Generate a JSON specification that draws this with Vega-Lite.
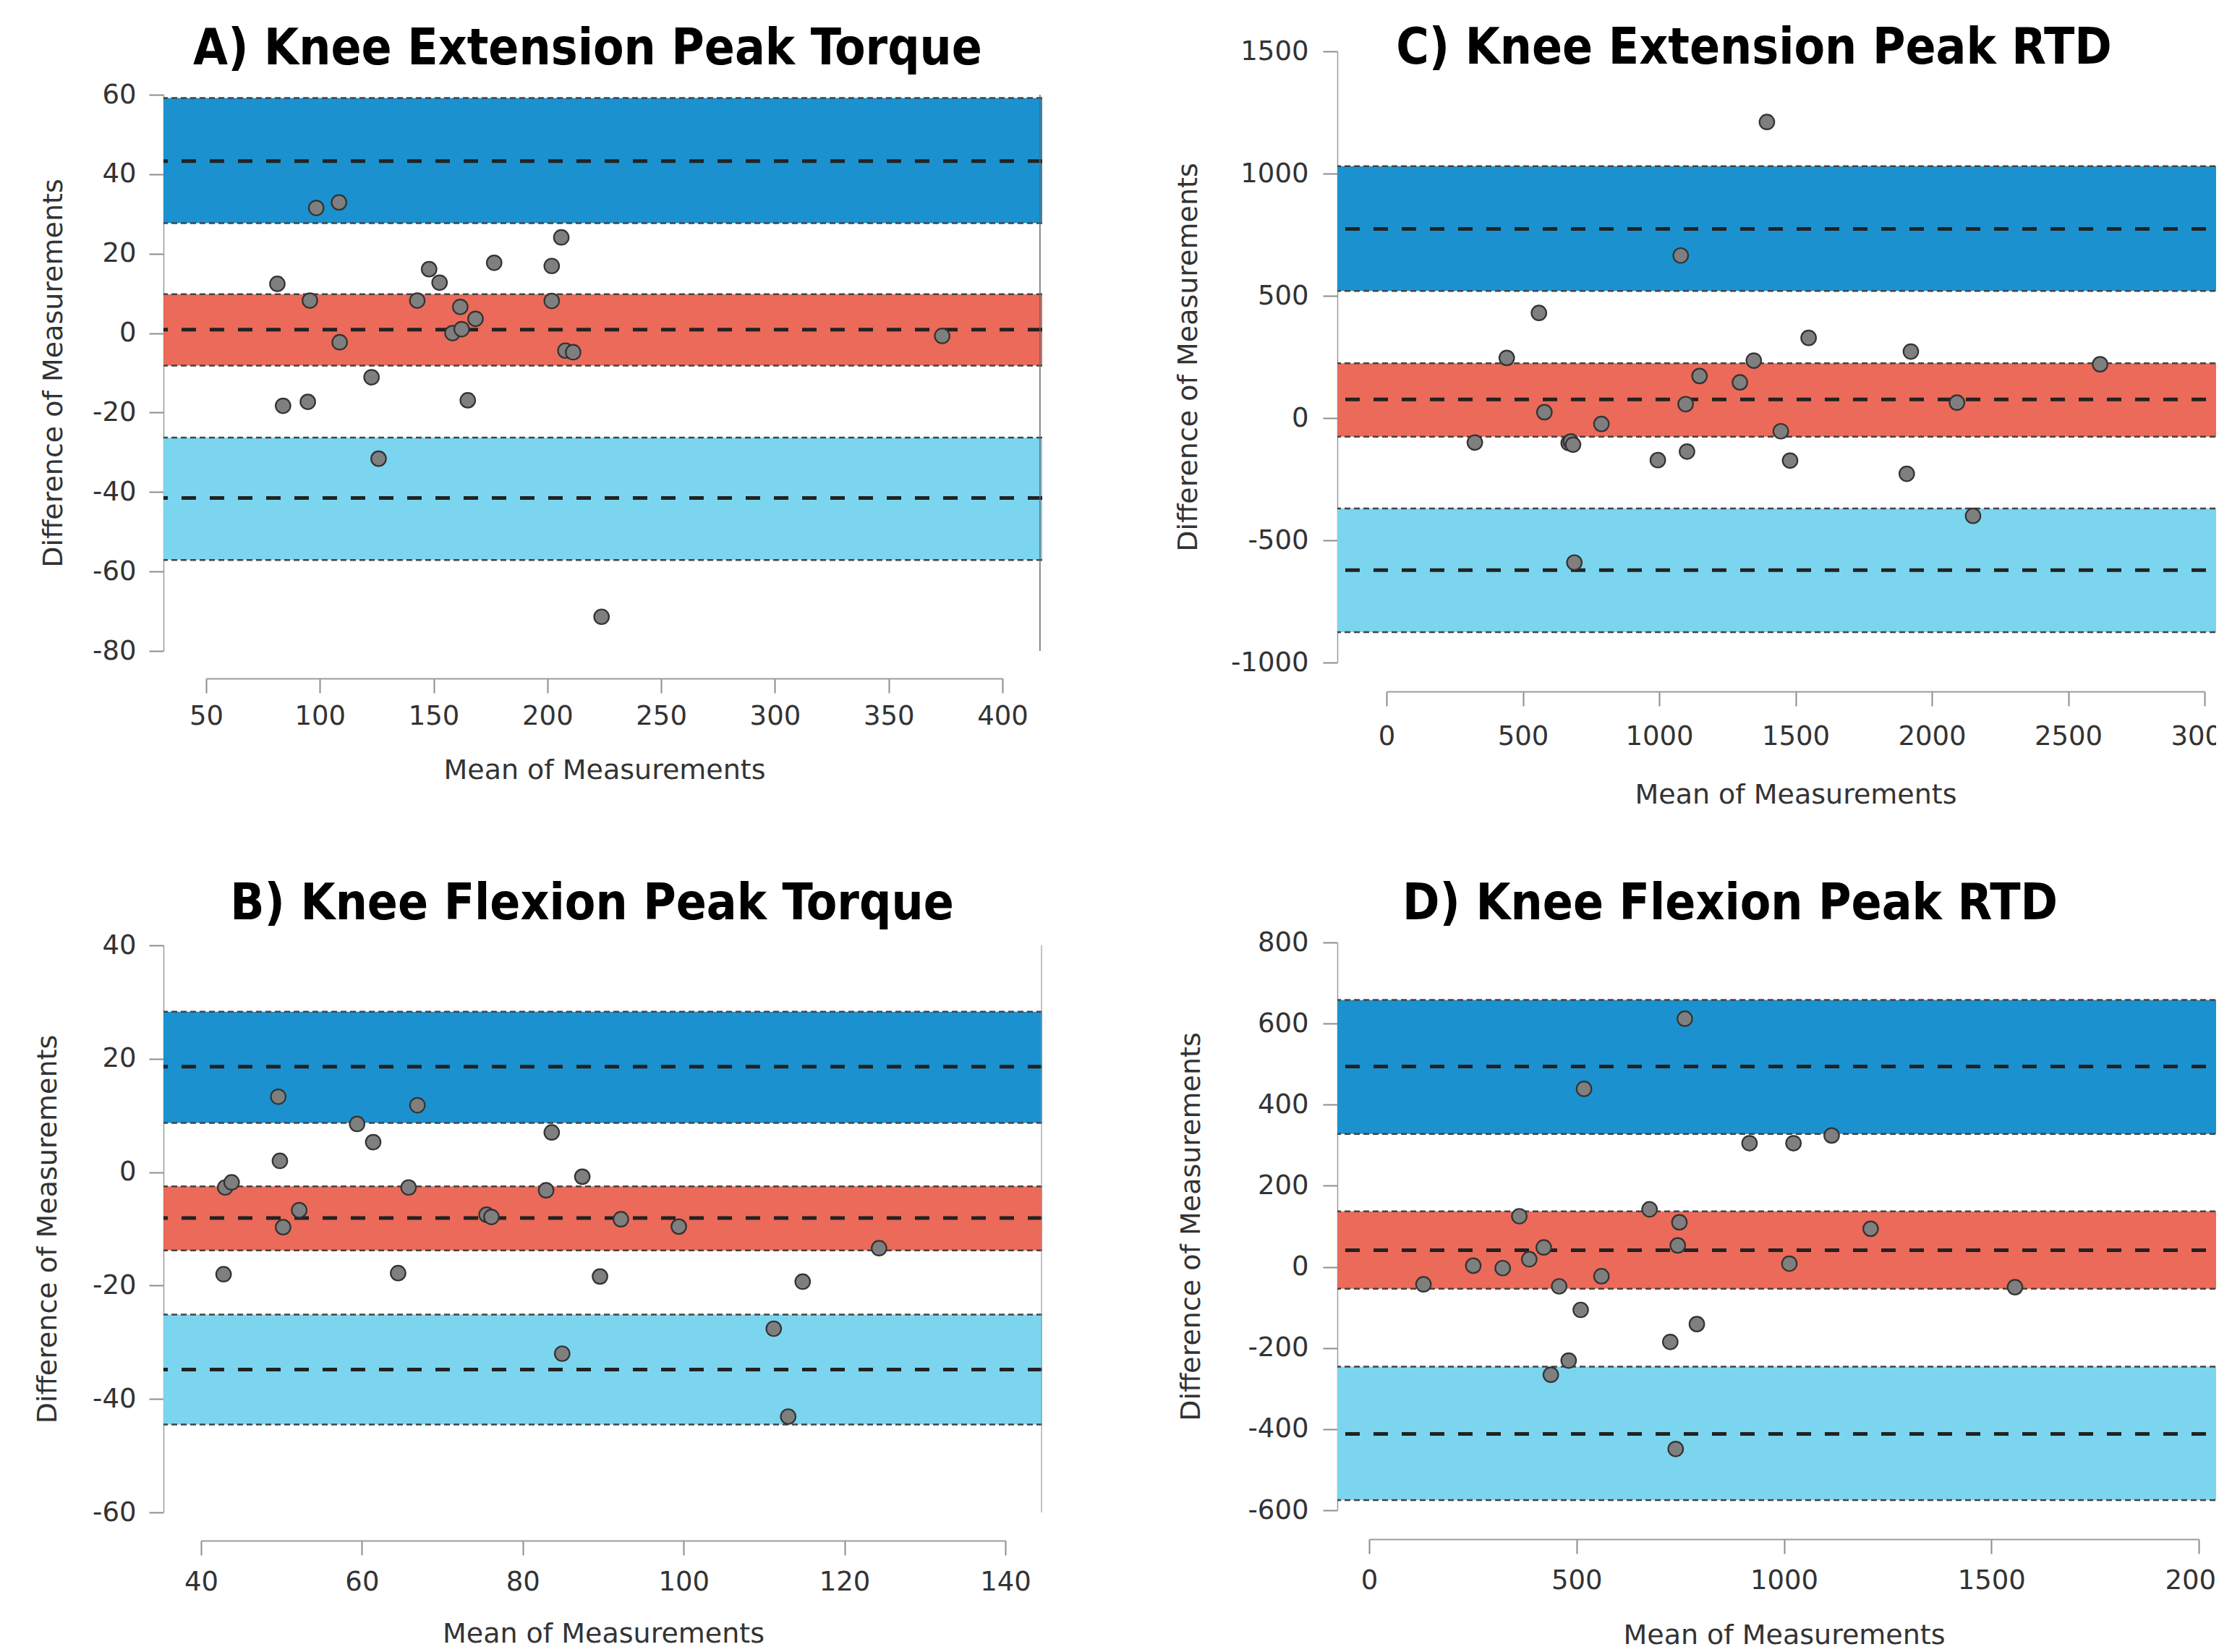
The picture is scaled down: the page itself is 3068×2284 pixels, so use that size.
{
  "$schema": "https://vega.github.io/schema/vega-lite/v6.json",
  "background": "white",
  "padding": {"left": 47, "top": 33, "right": -32, "bottom": 0},
  "autosize": {"type": "pad"},
  "config": {
    "view": {"stroke": null},
    "font": "DejaVu Sans",
    "axis": {
      "grid": false, "labelFlush": false, "labelOverlap": false,
      "domainColor": "#9c9c9c", "domainWidth": 2,
      "tickColor": "#8c8c8c", "tickWidth": 2, "tickSize": 20,
      "labelFont": "DejaVu Sans", "labelFontSize": 37, "labelColor": "#333333",
      "titleFont": "DejaVu Sans", "titleFontSize": 38, "titleFontWeight": "normal", "titleColor": "#333333"
    },
    "title": {"font": "DejaVu Sans Condensed, Liberation Sans Narrow, DejaVu Sans", "fontSize": 69, "fontWeight": "bold", "color": "#000000", "anchor": "middle", "frame": "group", "baseline": "alphabetic"}
  },
  "datasets": {
    "ptsA": [
      {"mean": 81.3, "diff": 12.4}, {"mean": 83.8, "diff": -18.3}, {"mean": 94.7, "diff": -17.3}, {"mean": 95.6, "diff": 8.2}, {"mean": 98.4, "diff": 31.5},
      {"mean": 108.4, "diff": 32.9}, {"mean": 108.7, "diff": -2.3}, {"mean": 122.7, "diff": -11.1}, {"mean": 125.8, "diff": -31.6}, {"mean": 142.8, "diff": 8.2},
      {"mean": 148.0, "diff": 16.1}, {"mean": 152.6, "diff": 12.7}, {"mean": 158.3, "diff": 0.0}, {"mean": 161.7, "diff": 6.6}, {"mean": 162.3, "diff": 1.0},
      {"mean": 165.0, "diff": -16.9}, {"mean": 168.4, "diff": 3.6}, {"mean": 176.6, "diff": 17.7}, {"mean": 201.9, "diff": 16.9}, {"mean": 201.9, "diff": 8.1},
      {"mean": 206.1, "diff": 24.1}, {"mean": 207.9, "diff": -4.4}, {"mean": 211.3, "diff": -4.8}, {"mean": 223.8, "diff": -71.4}, {"mean": 373.5, "diff": -0.7}
    ],
    "bandsA": [
      {"band": "upper", "lo": 27.7, "hi": 59.2, "mid": 43.3},
      {"band": "bias", "lo": -8.2, "hi": 9.8, "mid": 0.9},
      {"band": "lower", "lo": -57.1, "hi": -26.3, "mid": -41.5}
    ],
    "edgeA": [{"x": 416.5, "y1": -80, "y2": 60}],
    "ptsB": [
      {"mean": 42.8, "diff": -18.0}, {"mean": 43.0, "diff": -2.7}, {"mean": 43.8, "diff": -1.8}, {"mean": 49.6, "diff": 13.3}, {"mean": 49.8, "diff": 2.0},
      {"mean": 50.2, "diff": -9.7}, {"mean": 52.2, "diff": -6.7}, {"mean": 59.4, "diff": 8.5}, {"mean": 61.4, "diff": 5.3}, {"mean": 64.5, "diff": -17.8},
      {"mean": 65.8, "diff": -2.7}, {"mean": 66.9, "diff": 11.8}, {"mean": 75.5, "diff": -7.5}, {"mean": 76.1, "diff": -7.9}, {"mean": 82.9, "diff": -3.2},
      {"mean": 83.6, "diff": 7.0}, {"mean": 84.9, "diff": -32.0}, {"mean": 87.4, "diff": -0.8}, {"mean": 89.6, "diff": -18.4}, {"mean": 92.2, "diff": -8.3},
      {"mean": 99.4, "diff": -9.6}, {"mean": 111.2, "diff": -27.6}, {"mean": 113.0, "diff": -43.1}, {"mean": 114.8, "diff": -19.3}, {"mean": 124.3, "diff": -13.4}
    ],
    "bandsB": [
      {"band": "upper", "lo": 8.7, "hi": 28.3, "mid": 18.6},
      {"band": "bias", "lo": -13.8, "hi": -2.5, "mid": -8.1},
      {"band": "lower", "lo": -44.5, "hi": -25.1, "mid": -34.8}
    ],
    "edgeB": [{"x": 144.5, "y1": -60, "y2": 40}],
    "ptsC": [
      {"mean": 324, "diff": -100}, {"mean": 441, "diff": 246}, {"mean": 559, "diff": 430}, {"mean": 579, "diff": 24}, {"mean": 668, "diff": -102},
      {"mean": 676, "diff": -96}, {"mean": 684, "diff": -109}, {"mean": 689, "diff": -591}, {"mean": 788, "diff": -24}, {"mean": 995, "diff": -172},
      {"mean": 1079, "diff": 665}, {"mean": 1097, "diff": 57}, {"mean": 1102, "diff": -137}, {"mean": 1148, "diff": 172}, {"mean": 1296, "diff": 146},
      {"mean": 1347, "diff": 235}, {"mean": 1395, "diff": 1211}, {"mean": 1446, "diff": -54}, {"mean": 1480, "diff": -174}, {"mean": 1548, "diff": 328},
      {"mean": 1908, "diff": -228}, {"mean": 1923, "diff": 272}, {"mean": 2092, "diff": 63}, {"mean": 2151, "diff": -400}, {"mean": 2617, "diff": 220}
    ],
    "bandsC": [
      {"band": "upper", "lo": 520, "hi": 1030, "mid": 774},
      {"band": "bias", "lo": -76, "hi": 224, "mid": 76},
      {"band": "lower", "lo": -876, "hi": -370, "mid": -622}
    ],
    "ptsD": [
      {"mean": 131, "diff": -43}, {"mean": 251, "diff": 3}, {"mean": 322, "diff": -3}, {"mean": 362, "diff": 125}, {"mean": 386, "diff": 19},
      {"mean": 421, "diff": 48}, {"mean": 438, "diff": -266}, {"mean": 458, "diff": -48}, {"mean": 481, "diff": -231}, {"mean": 510, "diff": -106},
      {"mean": 518, "diff": 439}, {"mean": 560, "diff": -23}, {"mean": 676, "diff": 142}, {"mean": 726, "diff": -185}, {"mean": 739, "diff": -449},
      {"mean": 744, "diff": 53}, {"mean": 748, "diff": 110}, {"mean": 761, "diff": 612}, {"mean": 790, "diff": -141}, {"mean": 917, "diff": 305},
      {"mean": 1013, "diff": 8}, {"mean": 1023, "diff": 305}, {"mean": 1115, "diff": 324}, {"mean": 1209, "diff": 94}, {"mean": 1557, "diff": -50}
    ],
    "bandsD": [
      {"band": "upper", "lo": 328, "hi": 658, "mid": 494},
      {"band": "bias", "lo": -54, "hi": 137, "mid": 41},
      {"band": "lower", "lo": -575, "hi": -246, "mid": -412}
    ]
  },
  "columns": 2,
  "bounds": "flush",
  "align": "each",
  "spacing": {"row": 387, "column": 408},
  "concat": [
    {
      "width": 1215, "height": 829,
      "title": {"text": "A) Knee Extension Peak Torque", "dx": -21, "offset": -32},
      "layer": [
        {"data": {"name": "bandsA"}, "mark": {"type": "rect"},
         "encoding": {
           "y": {"field": "lo", "type": "quantitative", "title": "Difference of Measurements",
                 "scale": {"domain": [-80, 60], "range": [829, 60], "nice": false, "zero": false},
                 "axis": {"values": [-80, -60, -40, -20, 0, 20, 40, 60], "labelExpr": "'' + datum.value", "labelPadding": 18, "titlePadding": 34, "domainWidth": 1.5}},
           "y2": {"field": "hi"},
           "color": {"field": "band", "type": "nominal", "legend": null, "scale": {"domain": ["upper", "bias", "lower"], "range": ["#1b92cf", "#eb6a59", "#7bd5ef"]}}
         }},
        {"data": {"name": "bandsA"}, "mark": {"type": "rule", "color": "#444444", "strokeWidth": 2.5, "strokeDash": [8, 5]},
         "encoding": {"y": {"field": "hi", "type": "quantitative", "title": "Difference of Measurements"}}},
        {"data": {"name": "bandsA"}, "mark": {"type": "rule", "color": "#444444", "strokeWidth": 2.5, "strokeDash": [8, 5]},
         "encoding": {"y": {"field": "lo", "type": "quantitative", "title": "Difference of Measurements"}}},
        {"data": {"name": "bandsA"}, "mark": {"type": "rule", "color": "#222222", "strokeWidth": 5, "strokeDash": [20, 19]},
         "encoding": {"y": {"field": "mid", "type": "quantitative", "title": "Difference of Measurements"}}},
        {"data": {"name": "edgeA"}, "mark": {"type": "rule", "color": "#666666", "strokeWidth": 1.5},
         "encoding": {"x": {"field": "x", "type": "quantitative"}, "y": {"field": "y1", "type": "quantitative", "title": "Difference of Measurements"}, "y2": {"field": "y2"}}},
        {"data": {"name": "ptsA"}, "mark": {"type": "circle", "size": 420, "fill": "#7f7f7f", "stroke": "#333333", "strokeWidth": 2.2, "opacity": 1},
         "encoding": {
           "x": {"field": "mean", "type": "quantitative", "title": "Mean of Measurements",
                 "scale": {"domain": [50, 400], "range": [59, 1160], "nice": false, "zero": false},
                 "axis": {"values": [50, 100, 150, 200, 250, 300, 350, 400], "labelExpr": "'' + datum.value", "offset": 38, "labelPadding": 14, "titlePadding": 38}},
           "y": {"field": "diff", "type": "quantitative", "title": "Difference of Measurements"}
         }}
      ]
    },
    {
      "width": 1240, "height": 845,
      "title": {"text": "C) Knee Extension Peak RTD", "dx": -44, "offset": -50},
      "layer": [
        {"data": {"name": "bandsC"}, "mark": {"type": "rect"},
         "encoding": {
           "y": {"field": "lo", "type": "quantitative", "title": "Difference of Measurements",
                 "scale": {"domain": [-1000, 1500], "nice": false, "zero": false},
                 "axis": {"values": [-1000, -500, 0, 500, 1000, 1500], "labelExpr": "'' + datum.value", "labelPadding": 20, "titlePadding": 39, "domainWidth": 1.5}},
           "y2": {"field": "hi"},
           "color": {"field": "band", "type": "nominal", "legend": null, "scale": {"domain": ["upper", "bias", "lower"], "range": ["#1b92cf", "#eb6a59", "#7bd5ef"]}}
         }},
        {"data": {"name": "bandsC"}, "mark": {"type": "rule", "color": "#444444", "strokeWidth": 2.5, "strokeDash": [8, 5]},
         "encoding": {"y": {"field": "hi", "type": "quantitative", "title": "Difference of Measurements"}}},
        {"data": {"name": "bandsC"}, "mark": {"type": "rule", "color": "#444444", "strokeWidth": 2.5, "strokeDash": [8, 5]},
         "encoding": {"y": {"field": "lo", "type": "quantitative", "title": "Difference of Measurements"}}},
        {"data": {"name": "bandsC"}, "mark": {"type": "rule", "color": "#222222", "strokeWidth": 5, "strokeDash": [20, 19]},
         "encoding": {"y": {"field": "mid", "type": "quantitative", "title": "Difference of Measurements"}}},
        {"data": {"name": "ptsC"}, "mark": {"type": "circle", "size": 420, "fill": "#7f7f7f", "stroke": "#333333", "strokeWidth": 2.2, "opacity": 1},
         "encoding": {
           "x": {"field": "mean", "type": "quantitative", "title": "Mean of Measurements",
                 "scale": {"domain": [0, 3000], "range": [68, 1199], "nice": false, "zero": false},
                 "axis": {"values": [0, 500, 1000, 1500, 2000, 2500, 3000], "labelExpr": "'' + datum.value", "offset": 40, "labelPadding": 24, "titlePadding": 44}},
           "y": {"field": "diff", "type": "quantitative", "title": "Difference of Measurements"}
         }}
      ]
    },
    {
      "width": 1215, "height": 788,
      "title": {"text": "B) Knee Flexion Peak Torque", "dx": -15, "offset": 3},
      "layer": [
        {"data": {"name": "bandsB"}, "mark": {"type": "rect"},
         "encoding": {
           "y": {"field": "lo", "type": "quantitative", "title": "Difference of Measurements",
                 "scale": {"domain": [-60, 40], "range": [788, 4], "nice": false, "zero": false},
                 "axis": {"values": [-60, -40, -20, 0, 20, 40], "labelExpr": "'' + datum.value", "labelPadding": 18, "titlePadding": 42, "domainWidth": 1.5}},
           "y2": {"field": "hi"},
           "color": {"field": "band", "type": "nominal", "legend": null, "scale": {"domain": ["upper", "bias", "lower"], "range": ["#1b92cf", "#eb6a59", "#7bd5ef"]}}
         }},
        {"data": {"name": "bandsB"}, "mark": {"type": "rule", "color": "#444444", "strokeWidth": 2.5, "strokeDash": [8, 5]},
         "encoding": {"y": {"field": "hi", "type": "quantitative", "title": "Difference of Measurements"}}},
        {"data": {"name": "bandsB"}, "mark": {"type": "rule", "color": "#444444", "strokeWidth": 2.5, "strokeDash": [8, 5]},
         "encoding": {"y": {"field": "lo", "type": "quantitative", "title": "Difference of Measurements"}}},
        {"data": {"name": "bandsB"}, "mark": {"type": "rule", "color": "#222222", "strokeWidth": 5, "strokeDash": [20, 19]},
         "encoding": {"y": {"field": "mid", "type": "quantitative", "title": "Difference of Measurements"}}},
        {"data": {"name": "edgeB"}, "mark": {"type": "rule", "color": "#9a9a9a", "strokeWidth": 1.2},
         "encoding": {"x": {"field": "x", "type": "quantitative"}, "y": {"field": "y1", "type": "quantitative", "title": "Difference of Measurements"}, "y2": {"field": "y2"}}},
        {"data": {"name": "ptsB"}, "mark": {"type": "circle", "size": 420, "fill": "#7f7f7f", "stroke": "#333333", "strokeWidth": 2.2, "opacity": 1},
         "encoding": {
           "x": {"field": "mean", "type": "quantitative", "title": "Mean of Measurements",
                 "scale": {"domain": [40, 140], "range": [52, 1164], "nice": false, "zero": false},
                 "axis": {"values": [40, 60, 80, 100, 120, 140], "labelExpr": "'' + datum.value", "offset": 39, "labelPadding": 19, "titlePadding": 35}},
           "y": {"field": "diff", "type": "quantitative", "title": "Difference of Measurements"}
         }}
      ]
    },
    {
      "width": 1240, "height": 785,
      "title": {"text": "D) Knee Flexion Peak RTD", "dx": -77, "offset": -1},
      "layer": [
        {"data": {"name": "bandsD"}, "mark": {"type": "rect"},
         "encoding": {
           "y": {"field": "lo", "type": "quantitative", "title": "Difference of Measurements",
                 "scale": {"domain": [-600, 800], "nice": false, "zero": false},
                 "axis": {"values": [-600, -400, -200, 0, 200, 400, 600, 800], "labelExpr": "'' + datum.value", "labelPadding": 20, "titlePadding": 59, "domainWidth": 1.5}},
           "y2": {"field": "hi"},
           "color": {"field": "band", "type": "nominal", "legend": null, "scale": {"domain": ["upper", "bias", "lower"], "range": ["#1b92cf", "#eb6a59", "#7bd5ef"]}}
         }},
        {"data": {"name": "bandsD"}, "mark": {"type": "rule", "color": "#444444", "strokeWidth": 2.5, "strokeDash": [8, 5]},
         "encoding": {"y": {"field": "hi", "type": "quantitative", "title": "Difference of Measurements"}}},
        {"data": {"name": "bandsD"}, "mark": {"type": "rule", "color": "#444444", "strokeWidth": 2.5, "strokeDash": [8, 5]},
         "encoding": {"y": {"field": "lo", "type": "quantitative", "title": "Difference of Measurements"}}},
        {"data": {"name": "bandsD"}, "mark": {"type": "rule", "color": "#222222", "strokeWidth": 5, "strokeDash": [20, 19]},
         "encoding": {"y": {"field": "mid", "type": "quantitative", "title": "Difference of Measurements"}}},
        {"data": {"name": "ptsD"}, "mark": {"type": "circle", "size": 420, "fill": "#7f7f7f", "stroke": "#333333", "strokeWidth": 2.2, "opacity": 1},
         "encoding": {
           "x": {"field": "mean", "type": "quantitative", "title": "Mean of Measurements",
                 "scale": {"domain": [0, 2000], "range": [44, 1191], "nice": false, "zero": false},
                 "axis": {"values": [0, 500, 1000, 1500, 2000], "labelExpr": "'' + datum.value", "offset": 40, "labelPadding": 19, "titlePadding": 39}},
           "y": {"field": "diff", "type": "quantitative", "title": "Difference of Measurements"}
         }}
      ]
    }
  ]
}
